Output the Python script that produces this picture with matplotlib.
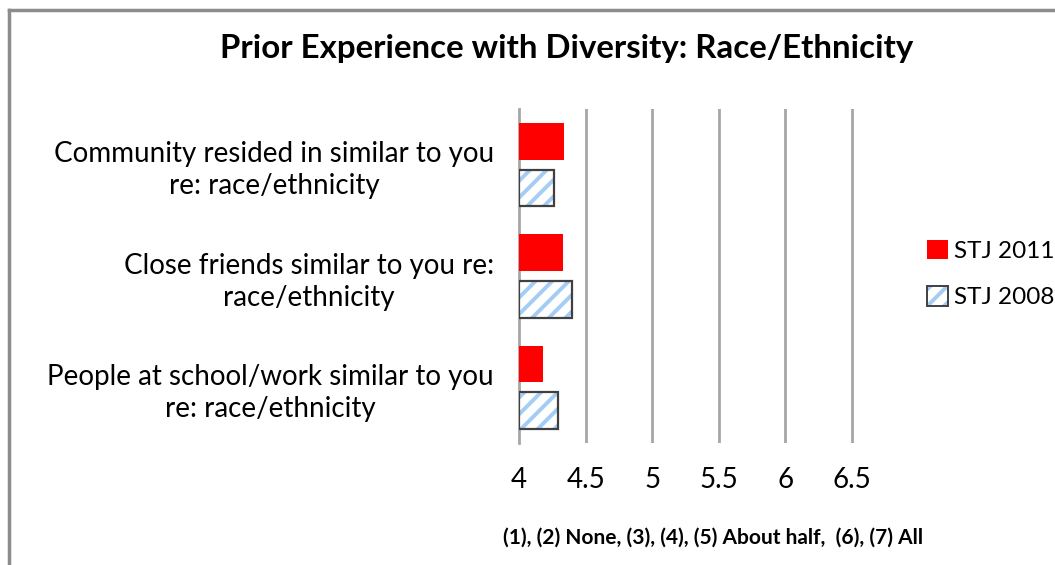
import matplotlib
matplotlib.use("Agg")
import matplotlib.pyplot as plt
from matplotlib.patches import Patch
from matplotlib.lines import Line2D
import numpy as np

categories = [
    "Community resided in similar to you\nre: race/ethnicity",
    "Close friends similar to you re:\nrace/ethnicity",
    "People at school/work similar to you\nre: race/ethnicity",
]
stj_2011 = [4.34, 4.33, 4.18]
stj_2008 = [4.26, 4.40, 4.29]
series_names = ["STJ 2011", "STJ 2008"]
x_ticks = [4, 4.5, 5, 5.5, 6, 6.5]
x_tick_labels = ["4", "4.5", "5", "5.5", "6", "6.5"]
title = "Prior Experience with Diversity: Race/Ethnicity"
scale_note = "(1), (2) None, (3), (4), (5) About half,  (6), (7) All"

plt.rcParams["font.family"] = ["Lato", "DejaVu Sans"]
plt.rcParams["hatch.linewidth"] = 2.8

fig = plt.figure(figsize=(10.55, 5.65), dpi=100)
ax = fig.add_axes([0.492, 0.216, 0.3787, 0.591])

base = 4.0
y = np.arange(len(categories))
h = 0.33
off = 0.21
red = "#ff0000"
hatch_blue = "#a3cdf5"
edge = "#404040"
hatch = "//"

ax.barh(y - off, np.array(stj_2011) - base, left=base, height=h, color=red, edgecolor="none", zorder=3)
ax.barh(y + off, np.array(stj_2008) - base, left=base, height=h, color="white",
        edgecolor=hatch_blue, hatch=hatch, linewidth=0, zorder=3)
ax.barh(y + off, np.array(stj_2008) - base, left=base, height=h, color="none",
        edgecolor=edge, linewidth=1.6, zorder=4)

ax.set_xlim(4, 7)
ax.set_ylim(len(categories) - 0.5, -0.5)
ax.set_xticks(x_ticks)
ax.set_xticklabels(x_tick_labels)
ax.set_yticks(y)
ax.set_yticklabels(categories, multialignment="center", linespacing=1.3)
for lbl in ax.get_yticklabels():
    lbl.set_y(lbl.get_position()[1])
ax.tick_params(axis="x", length=0, pad=17, labelsize=20)
ax.tick_params(axis="y", length=0, pad=18, labelsize=20)

for s in ["top", "right", "bottom"]:
    ax.spines[s].set_visible(False)
ax.spines["left"].set_color("#a6a6a6")
ax.spines["left"].set_linewidth(2)
for xv in x_ticks[1:]:
    ax.axvline(xv, color="#a6a6a6", linewidth=2, zorder=1)

fig.text(0.537, 0.915, title, ha="center", va="center", fontsize=23.8, fontweight="bold")
fig.text(0.676, 0.048, scale_note, ha="center", va="center", fontsize=15, fontweight="bold")

handles = [
    Patch(facecolor=red, edgecolor="none"),
    (Patch(facecolor="white", edgecolor=hatch_blue, hatch=hatch, linewidth=0),
     Patch(facecolor="none", edgecolor=edge, linewidth=1.4)),
]
leg = fig.legend(handles, series_names, loc="center left", bbox_to_anchor=(0.879, 0.515),
                 frameon=False, fontsize=17.5, handlelength=0.85, handleheight=0.85,
                 handletextpad=0.25, labelspacing=1.0, borderaxespad=0, borderpad=0)

# outer chart border
fig.add_artist(Line2D([0.0085, 0.0085], [0, 0.982], color="#8c8c8c", linewidth=2.5, transform=fig.transFigure))
fig.add_artist(Line2D([0.0085, 1.0], [0.982, 0.982], color="#8c8c8c", linewidth=2.5, transform=fig.transFigure))

fig.savefig("out.png", dpi=100)
